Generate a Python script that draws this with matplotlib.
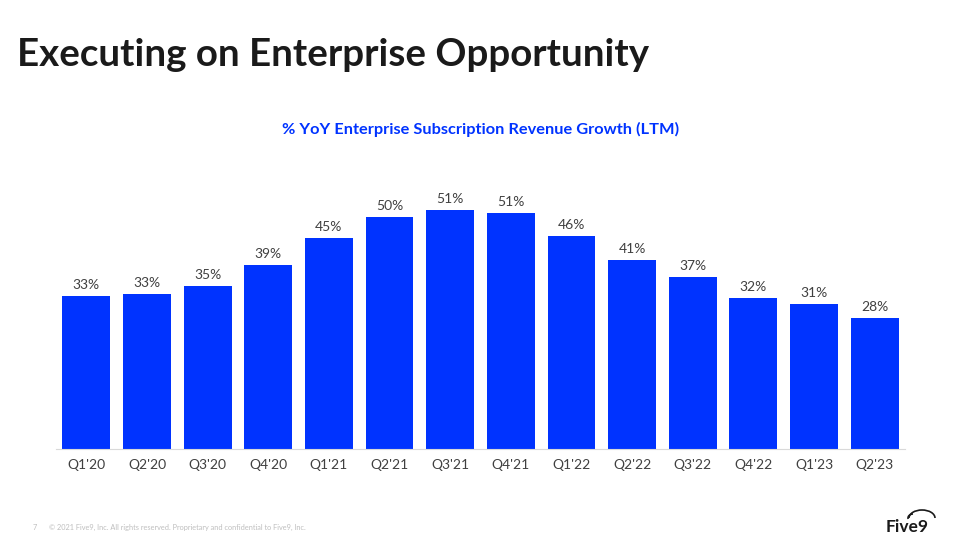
import matplotlib.pyplot as plt
from matplotlib.patches import Arc

quarters = ["Q1'20", "Q2'20", "Q3'20", "Q4'20", "Q1'21", "Q2'21", "Q3'21",
            "Q4'21", "Q1'22", "Q2'22", "Q3'22", "Q4'22", "Q1'23", "Q2'23"]
growth = [32.6, 33.0, 34.8, 39.2, 45.0, 49.5, 51.0,
          50.3, 45.4, 40.3, 36.7, 32.2, 30.9, 27.9]
growth_labels = ["33%", "33%", "35%", "39%", "45%", "50%", "51%",
                 "51%", "46%", "41%", "37%", "32%", "31%", "28%"]

blue = '#0033FF'
plt.rcParams['font.family'] = ['Lato', 'DejaVu Sans']

fig = plt.figure(figsize=(9.6, 5.4), dpi=100)
ax = fig.add_axes([56 / 960, 91 / 540, 849 / 960, 279 / 540])

x = range(len(quarters))
bars = ax.bar(x, growth, width=0.79, color=blue)
for b, lab in zip(bars, growth_labels):
    ax.text(b.get_x() + b.get_width() / 2, b.get_height() + 1.1, lab,
            ha='center', va='bottom', fontsize=10, color='#404040')

ax.set_xlim(-0.5, len(quarters) - 0.5)
ax.set_ylim(0, 59.5)
ax.set_xticks(list(x))
ax.set_xticklabels(quarters, fontsize=10, color='#404040')
ax.tick_params(axis='x', length=0, pad=7)
ax.set_yticks([])
for s in ['top', 'right', 'left']:
    ax.spines[s].set_visible(False)
ax.spines['bottom'].set_color('#d9d9d9')

fig.text(17 / 960, 1 - 55 / 540, 'Executing on Enterprise Opportunity',
         fontsize=27.7, fontweight='bold', color='#1a1a1a', va='center', ha='left')
fig.text(481 / 960, 1 - 129 / 540, '% YoY Enterprise Subscription Revenue Growth (LTM)',
         fontsize=11.8, fontweight='bold', color=blue, ha='center', va='center')

fig.text(33 / 960, 1 - 527 / 540, '7', fontsize=5.3, color='#bfbfbf', va='center')
fig.text(49 / 960, 1 - 527 / 540,
         '\u00a9 2021 Five9, Inc. All rights reserved. Proprietary and confidential to Five9, Inc.',
         fontsize=5.3, color='#bfbfbf', va='center')

fig.text(907 / 960, 1 - 527 / 540, 'Five9', fontsize=12.5, fontweight='bold',
         color='#1a1a1a', ha='center', va='center')
fig.add_artist(Arc((922 / 960, 1 - 518 / 540), 26 / 960, 16 / 540,
                   theta1=0, theta2=180, color='#1a1a1a', lw=1.2,
                   transform=fig.transFigure))
fig.add_artist(Arc((913 / 960, 1 - 518 / 540), 10 / 960, 8 / 540,
                   theta1=90, theta2=200, color='#1a1a1a', lw=1.2,
                   transform=fig.transFigure))

fig.savefig('out.png', dpi=100)
